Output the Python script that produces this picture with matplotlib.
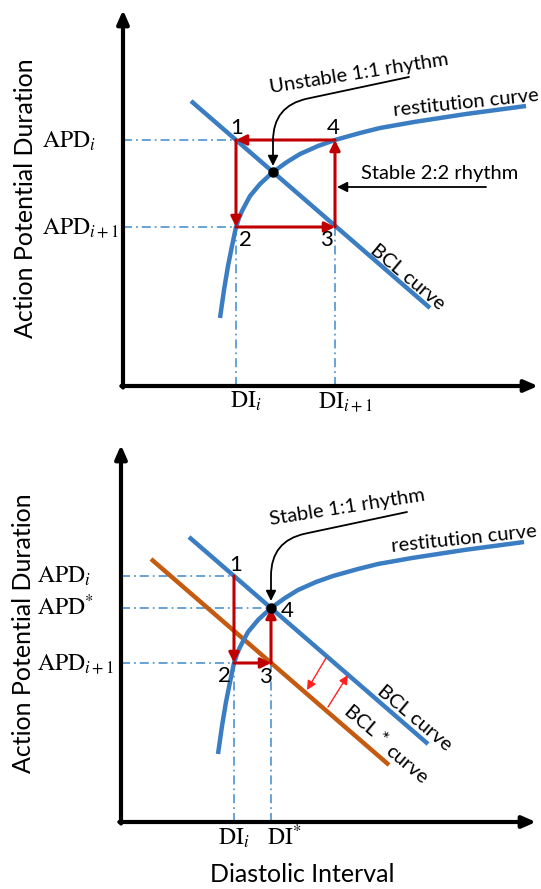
import numpy as np
import matplotlib.pyplot as plt

plt.rcParams['font.family'] = ['Lato', 'DejaVu Sans']
plt.rcParams['mathtext.fontset'] = 'stix'

# Restitution curve, APD against DI (arbitrary units)
rest_di = [97, 101, 105, 109, 113, 116, 119, 127, 137, 150, 164, 177, 195, 212, 237, 257, 291, 343, 403]
rest_apd = [68, 96, 120, 140, 159, 168, 175, 190, 202, 214, 224, 232, 240, 246, 253, 258, 264, 272, 280]

# BCL lines (end points)
bcl_di = [68, 307]
bcl_apd = [285, 78]
bcl_star_di = [30, 268]
bcl_star_apd = [263, 57]

# Marked values
di_i, di_next, di_star = 113, 212, 150
apd_i, apd_next, apd_star = 246, 159, 214

BLUE = '#3a7dc2'
LIGHT = '#5b9bd5'
RED = '#c00000'
ORANGE = '#c55a11'
DASHDOT = (0, (5, 2.2, 1, 2.2))


def axis_arrows(ax):
    for s in ax.spines.values():
        s.set_visible(False)
    ax.set_xticks([])
    ax.set_yticks([])
    style = dict(arrowstyle='-|>,head_length=0.8,head_width=0.35', mutation_scale=10,
                 lw=3, color='black', shrinkA=0, shrinkB=0)
    ax.annotate('', xy=(1, 0), xytext=(-0.004, 0), xycoords='axes fraction', arrowprops=style)
    ax.annotate('', xy=(0, 1), xytext=(0, -0.004), xycoords='axes fraction', arrowprops=style)


def red_arrow(ax, p0, p1, lw=2.2, color=RED, scale=10):
    ax.annotate('', xy=p1, xytext=p0,
                arrowprops=dict(arrowstyle='-|>,head_length=0.6,head_width=0.3', mutation_scale=scale,
                                lw=lw, color=color, shrinkA=0, shrinkB=0))


def guide(ax, xs, ys):
    ax.plot(xs, ys, color=LIGHT, lw=1.3, linestyle=DASHDOT, zorder=1)


def common(ax, bcl_lbl_xy):
    ax.plot(rest_di, rest_apd, color=BLUE, lw=3.2, solid_capstyle='butt', zorder=3)
    ax.plot(bcl_di, bcl_apd, color=BLUE, lw=3.2, solid_capstyle='butt', zorder=3)
    ax.text(343, 283, 'restitution curve', fontsize=14.5, rotation=6, rotation_mode='anchor',
            ha='center', va='center')
    ax.text(*bcl_lbl_xy, 'BCL curve', fontsize=14.5, rotation=-40, rotation_mode='anchor',
            ha='center', va='center')
    ax.set_ylabel('Action Potential Duration', fontsize=18)
    ax.yaxis.set_label_coords(-0.207, 0.5)


def label_num(ax, x, y, s):
    ax.text(x, y, s, fontsize=16, ha='center', va='center')


fig = plt.figure(figsize=(5.41, 8.89), dpi=100)

# ---- top: unstable 1:1 rhythm, 2:2 alternans ----
ax1 = fig.add_axes([123 / 541, 1 - 386 / 889, 415 / 541, 376 / 889])
ax1.set_xlim(0, 415)
ax1.set_ylim(0, 376)
axis_arrows(ax1)

guide(ax1, [0, di_i], [apd_i, apd_i])
guide(ax1, [0, di_i], [apd_next, apd_next])
guide(ax1, [di_i, di_i], [0, apd_next])
guide(ax1, [di_next, di_next], [0, apd_next])
common(ax1, (284, 109))

red_arrow(ax1, (di_next, apd_i), (di_i, apd_i))
red_arrow(ax1, (di_i, apd_i), (di_i, apd_next))
red_arrow(ax1, (di_i, apd_next), (di_next, apd_next))
red_arrow(ax1, (di_next, apd_next), (di_next, apd_i))
ax1.plot([di_star], [apd_star], 'o', color='black', ms=6.5, zorder=5)

label_num(ax1, 114, 258, '1')
label_num(ax1, 210, 258, '4')
label_num(ax1, 122, 146, '2')
label_num(ax1, 203, 146, '3')

ax1.text(236, 313, 'Unstable 1:1 rhythm', fontsize=14.5, rotation=9, rotation_mode='anchor',
         ha='center', va='center')
ax1.annotate('', xy=(di_star, apd_star + 6), xytext=(286, 309),
             arrowprops=dict(arrowstyle='-|>,head_length=0.6,head_width=0.3', mutation_scale=10,
                             lw=1.3, color='black', shrinkA=0, shrinkB=0,
                             connectionstyle='angle,angleA=12,angleB=90,rad=35'))
ax1.text(317, 213, 'Stable 2:2 rhythm', fontsize=14.5, ha='center', va='center')
red_arrow(ax1, (363, 199), (di_next + 2, 199), lw=1.3, color='black')

ax1.text(di_i + 10, -22, r'$\mathrm{DI}_{i}$', fontsize=17, ha='center', va='baseline')
ax1.text(di_next + 10, -22, r'$\mathrm{DI}_{i+1}$', fontsize=17, ha='center', va='baseline')
ax1.text(-81, apd_i - 8, r'$\mathrm{APD}_{i}$', fontsize=17, ha='left', va='baseline')
ax1.text(-81, apd_next - 7, r'$\mathrm{APD}_{i+1}$', fontsize=17, ha='left', va='baseline')

# ---- bottom: shorter BCL, stable 1:1 rhythm ----
ax2 = fig.add_axes([121 / 541, 1 - 822 / 889, 415 / 541, 377 / 889])
ax2.set_xlim(0, 415)
ax2.set_ylim(0, 377)
axis_arrows(ax2)

guide(ax2, [0, di_i], [apd_i, apd_i])
guide(ax2, [0, di_star], [apd_star, apd_star])
guide(ax2, [0, di_i], [apd_next, apd_next])
guide(ax2, [di_i, di_i], [0, apd_next])
guide(ax2, [di_star, di_star], [0, apd_next])
ax2.plot(bcl_star_di, bcl_star_apd, color=ORANGE, lw=3.2, solid_capstyle='butt', zorder=2)
common(ax2, (293, 104))

red_arrow(ax2, (di_i, apd_i), (di_i, apd_next))
red_arrow(ax2, (di_i, apd_next), (di_star, apd_next))
red_arrow(ax2, (di_star, apd_next), (di_star, apd_star))
ax2.plot([di_star], [apd_star], 'o', color='black', ms=6.5, zorder=5)

# shift between the two BCL lines
red_arrow(ax2, (205, 164), (186, 132), lw=1, color='#ff2020', scale=9)
red_arrow(ax2, (207, 115), (227, 147), lw=1, color='#ff2020', scale=9)

label_num(ax2, 115, 257, '1')
label_num(ax2, 166, 211, '4')
label_num(ax2, 103, 146, '2')
label_num(ax2, 144, 145, '3')

ax2.text(226, 315, 'Stable 1:1 rhythm', fontsize=14.5, rotation=9, rotation_mode='anchor',
         ha='center', va='center')
ax2.annotate('', xy=(di_star, apd_star + 7), xytext=(286, 310),
             arrowprops=dict(arrowstyle='-|>,head_length=0.6,head_width=0.3', mutation_scale=10,
                             lw=1.3, color='black', shrinkA=0, shrinkB=0,
                             connectionstyle='angle,angleA=12,angleB=90,rad=35'))
ax2.text(245, 97, 'BCL *', fontsize=14.5, rotation=-40, rotation_mode='anchor',
         ha='center', va='center')
ax2.text(286, 57, 'curve', fontsize=14.5, rotation=-40, rotation_mode='anchor',
         ha='center', va='center')

ax2.text(di_i, -23, r'$\mathrm{DI}_{i}$', fontsize=17, ha='center', va='baseline')
ax2.text(di_star + 13, -23, r'$\mathrm{DI}^{*}$', fontsize=17, ha='center', va='baseline')
ax2.text(-84, apd_i - 7, r'$\mathrm{APD}_{i}$', fontsize=17, ha='left', va='baseline')
ax2.text(-84, apd_star - 7, r'$\mathrm{APD}^{*}$', fontsize=17, ha='left', va='baseline')
ax2.text(-84, apd_next - 7, r'$\mathrm{APD}_{i+1}$', fontsize=17, ha='left', va='baseline')

ax2.set_xlabel('Diastolic Interval', fontsize=18)
ax2.xaxis.set_label_coords(0.436, -0.159)
ax2.xaxis.label.set_va('baseline')

fig.savefig('out.png', dpi=100)
